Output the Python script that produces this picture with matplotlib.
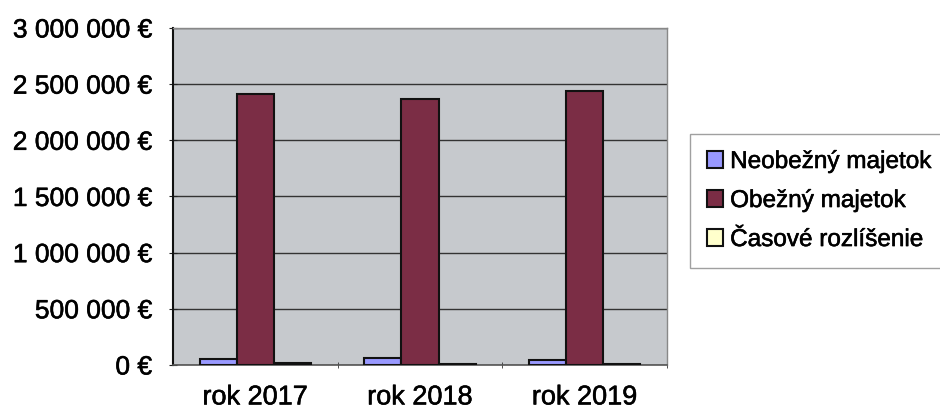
import matplotlib
matplotlib.use("Agg")
import matplotlib.pyplot as plt
import matplotlib.patheffects as pe
import numpy as np
from matplotlib.patches import Patch

categories = ["rok 2017", "rok 2018", "rok 2019"]
series_names = ["Neobežný majetok", "Obežný majetok", "Časové rozlíšenie"]
neobezny = [50000, 65000, 45000]
obezny = [2410000, 2370000, 2440000]
casove = [15000, 12000, 10000]
yticks = [0, 500000, 1000000, 1500000, 2000000, 2500000, 3000000]
ytick_labels = ["0 €", "500 000 €", "1 000 000 €", "1 500 000 €",
                "2 000 000 €", "2 500 000 €", "3 000 000 €"]

colors = ["#9999ff", "#7b2d45", "#ffffcc"]

plt.rcParams['font.family'] = ['Liberation Sans', 'DejaVu Sans']

fig = plt.figure(figsize=(9.4, 4.09), dpi=100)
ax = fig.add_axes([0.184, 0.1076, 0.5256, 0.824])
ax.set_facecolor("#c6c9cd")

x = np.arange(len(categories))
w = 0.225
data = [neobezny, obezny, casove]
for i, (vals, c) in enumerate(zip(data, colors)):
    ax.bar(x + (i - 1) * w, vals, width=w, color=c, edgecolor="#111111",
           linewidth=1.5, zorder=3)

ax.set_xlim(-0.5, 2.5)
ax.set_ylim(0, 3000000)
ax.set_yticks(yticks)
ax.set_yticklabels(ytick_labels, fontsize=19)
ax.set_xticks(x)
ax.set_xticklabels(categories, fontsize=19.5)
ax.tick_params(axis='x', length=0, pad=14)
ax.set_xticks([0.5, 1.5, 2.5], minor=True)
ax.tick_params(axis='x', which='minor', length=5, direction='inout', color='#333333')
ax.tick_params(axis='y', length=6, direction='inout', pad=12, color='#222222')
ax.yaxis.grid(True, color="#333333", linewidth=1.0, zorder=1)
ax.set_axisbelow(True)

for side in ["top", "right"]:
    ax.spines[side].set_color("#888888")
    ax.spines[side].set_linewidth(1.0)
ax.spines["left"].set_color("#111111")
ax.spines["left"].set_linewidth(1.5)
ax.spines["bottom"].set_color("#555555")
ax.spines["bottom"].set_linewidth(1.2)

handles = [Patch(facecolor=c, edgecolor="#111111", linewidth=1.5) for c in colors]
leg = fig.legend(handles, series_names, loc="upper left",
                 bbox_to_anchor=(690 / 940, 1 - 134 / 409), fontsize=17.5,
                 frameon=True, fancybox=False, edgecolor="#888888",
                 handlelength=0.65, handleheight=0.65, handletextpad=0.3,
                 labelspacing=0.7, borderpad=0.7, borderaxespad=0)
leg.get_frame().set_linewidth(1.0)

stroke = [pe.withStroke(linewidth=0.4, foreground="black")]
for t in ax.get_xticklabels() + ax.get_yticklabels() + leg.get_texts():
    t.set_path_effects(stroke)

fig.savefig("out.png", dpi=100, facecolor="white")
